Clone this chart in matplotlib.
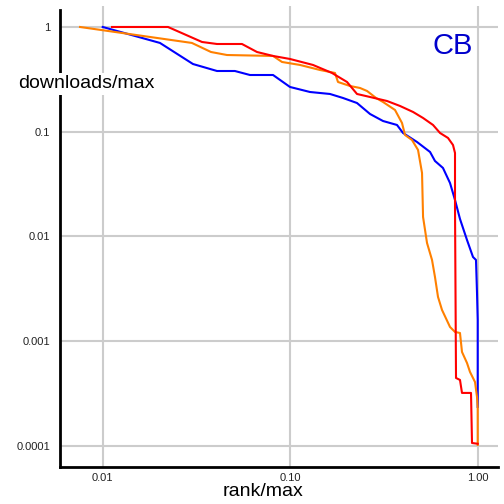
import matplotlib
matplotlib.use('Agg')
from matplotlib import pyplot as plt

plt.rcParams['font.family'] = ['Liberation Sans', 'DejaVu Sans']

# rank/max and downloads/max for the three series
blue_rank = [0.0100, 0.0202, 0.0303, 0.0407, 0.0507, 0.0610, 0.0810, 0.0997, 0.1275,
             0.1630, 0.1912, 0.2271, 0.2665, 0.3126, 0.3712, 0.3996, 0.4746, 0.5569,
             0.5916, 0.6527, 0.7117, 0.7567, 0.8044, 0.8768, 0.9438, 0.979, 0.9915,
             1.0, 1.0]
blue_dl = [1.0, 0.704, 0.443, 0.380, 0.380, 0.348, 0.348, 0.2675, 0.2395, 0.2293,
           0.210, 0.188, 0.1477, 0.1266, 0.116, 0.0973, 0.0798, 0.0641, 0.0526,
           0.0451, 0.0324, 0.0223, 0.0147, 0.00926, 0.00637, 0.00597, 0.00289,
           0.00160, 0.000236]

red_rank = [0.01121, 0.0223, 0.03386, 0.0407, 0.0553, 0.0665, 0.0810, 0.0997, 0.1323,
            0.1670, 0.2009, 0.2271, 0.2665, 0.3284, 0.3853, 0.4520, 0.5111, 0.5778,
            0.6295, 0.6944, 0.7383, 0.7567, 0.7567, 0.7661, 0.8044, 0.8245, 0.9210,
            0.9324, 1.0]
red_dl = [1.0, 1.0, 0.719, 0.688, 0.688, 0.577, 0.529, 0.495, 0.434, 0.364, 0.2985,
          0.2293, 0.2146, 0.1965, 0.1761, 0.1544, 0.1353, 0.1160, 0.0973, 0.0872,
          0.0747, 0.0627, 0.0191, 0.000446, 0.000427, 0.000321, 0.000321,
          0.0001068, 0.000105]

orange_rank = [0.00757, 0.0299, 0.0378, 0.0460, 0.0810, 0.0904, 0.1128, 0.1441,
               0.1733, 0.1798, 0.2084, 0.2357, 0.2569, 0.2870, 0.3126, 0.3622,
               0.3947, 0.4095, 0.4462, 0.4805, 0.5047, 0.5111, 0.5366, 0.5706,
               0.5916, 0.6141, 0.6450, 0.7117, 0.7567, 0.8044, 0.8245, 0.8768,
               0.9097, 0.9674, 0.9915, 1.0, 1.0]
orange_dl = [1.0, 0.704, 0.577, 0.540, 0.529, 0.4634, 0.434, 0.3886, 0.364, 0.2985,
             0.2733, 0.2616, 0.2449, 0.210, 0.1923, 0.1613, 0.1212, 0.0931, 0.0834,
             0.0670, 0.0404, 0.01536, 0.00867, 0.00597, 0.00411, 0.00265, 0.00199,
             0.001368, 0.001226, 0.001199, 0.000790, 0.000620, 0.000509, 0.000408,
             0.000294, 0.000231, 0.0001022]

xticks = [0.01, 0.1, 1.0]
xlabels = ['0.01', '0.10', '1.00']
yticks = [1, 0.1, 0.01, 0.001, 0.0001]
ylabels = ['1', '0.1', '0.01', '0.001', '0.0001']

fig = plt.figure(figsize=(5.04, 5.04), dpi=100)
ax = fig.add_axes([60 / 504, 37 / 504, 438 / 504, 461 / 504])
ax.set_xscale('log')
ax.set_yscale('log')
ax.set_xlim(0.005918, 1.283)
ax.set_ylim(6.3e-5, 1.586)

ax.plot(blue_rank, blue_dl, color='#0000ff', lw=1.5, zorder=3)
ax.plot(orange_rank, orange_dl, color='#ff8000', lw=1.5, zorder=3)
ax.plot(red_rank, red_dl, color='#ff0000', lw=1.5, zorder=4)

ax.set_xticks(xticks)
ax.set_xticklabels(xlabels)
ax.set_yticks(yticks)
ax.set_yticklabels(ylabels)
ax.minorticks_off()
ax.tick_params(length=0, labelsize=8, colors='#222222')
ax.tick_params(axis='y', pad=7)
ax.tick_params(axis='x', pad=4)
ax.grid(True, color='#cccccc', lw=1.5)
ax.set_axisbelow(True)

for s in ['top', 'right']:
    ax.spines[s].set_visible(False)
ax.spines['left'].set_linewidth(2)
ax.spines['bottom'].set_linewidth(2)
ax.spines['left'].set_bounds(6.3e-5, 1.453)

fig.text(18 / 504, 1 - 84 / 504, 'downloads/max', fontsize=14, va='center', ha='left',
         bbox=dict(facecolor='white', edgecolor='none', pad=2), zorder=10)
fig.text(263 / 504, 1 - 491 / 504, 'rank/max', fontsize=14, va='center', ha='center')
fig.text(432 / 504, 1 - 46 / 504, 'CB', fontsize=21, color='#0000cc', va='center', ha='left')

plt.savefig('out.png', dpi=100)
